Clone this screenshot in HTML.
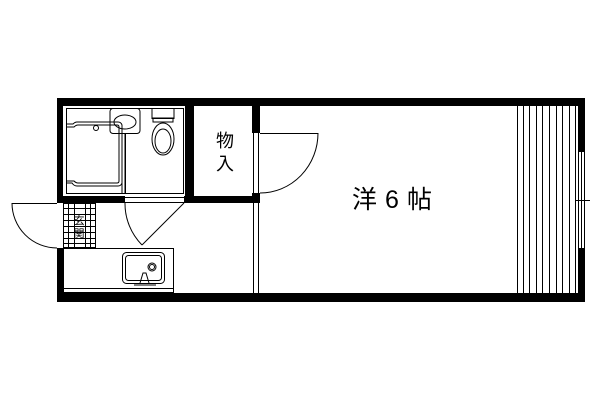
<!DOCTYPE html>
<html><head><meta charset="utf-8"><style>
html,body{margin:0;padding:0;background:#fff;width:600px;height:400px;overflow:hidden}
</style></head><body>
<svg width="600" height="400" viewBox="0 0 600 400" xmlns="http://www.w3.org/2000/svg" font-family="'Liberation Sans','Noto Sans CJK JP',sans-serif">
<g fill="#000">
<rect x="57" y="98" width="528" height="8"/>
<rect x="57" y="293" width="528" height="9"/>
<rect x="57" y="98" width="6" height="105"/>
<rect x="57" y="248" width="6" height="54"/>
<rect x="578" y="98" width="7" height="54"/>
<rect x="578" y="248" width="7" height="54"/>
<rect x="185" y="98" width="9" height="105"/>
<rect x="57" y="196" width="68" height="7"/>
<rect x="184" y="196" width="76" height="7"/>
<rect x="252" y="98" width="8" height="35"/>
<rect x="252" y="193" width="8" height="10"/>
</g>
<g fill="none" stroke="#000" stroke-width="1">
<rect x="66.5" y="108.5" width="117" height="85"/>
<line x1="125.5" y1="134" x2="125.5" y2="193"/>
<path d="M67 124 H73 Q75 122 77 122 H118 Q121 122 122 125 V183 Q121 186 118 186 H77 Q74 186 72 183 H67"/>
<path d="M67 127 H74 Q76 125 78 125 H117 Q119 125 119 127 V181 Q119 183 117 183 H78 Q76 183 74 181 H67"/>
<circle cx="96" cy="128" r="2.5"/>
<rect x="110" y="108.5" width="30" height="25" rx="3"/>
<ellipse cx="125" cy="122" rx="11" ry="7"/>
<line x1="122" y1="133" x2="122" y2="193"/><line x1="125" y1="133" x2="125" y2="193"/>
<rect x="152" y="108.5" width="22" height="10"/>
<path d="M153 118 H173 V122 H153Z"/>
<ellipse cx="163" cy="139" rx="11" ry="16"/>
<ellipse cx="163" cy="141" rx="8" ry="12"/>
<line x1="125" y1="197.5" x2="184" y2="197.5"/>
<line x1="125" y1="202.5" x2="184" y2="202.5"/>
<line x1="184" y1="203" x2="142" y2="245"/>
<path d="M125 203 A59 59 0 0 0 142 245"/>
<line x1="253.5" y1="133" x2="253.5" y2="193"/>
<line x1="258.5" y1="133" x2="258.5" y2="193"/>
<line x1="253.5" y1="203" x2="253.5" y2="293"/>
<line x1="258.5" y1="203" x2="258.5" y2="293"/>
<line x1="260" y1="133.5" x2="318" y2="133.5"/>
<path d="M318 133 A58 60 0 0 1 260 193"/>
<line x1="12" y1="203.5" x2="57" y2="203.5"/>
<path d="M12 203 A45 45 0 0 0 57 248"/>
<line x1="57" y1="248.5" x2="63" y2="248.5"/>
<rect x="63.5" y="203.5" width="32" height="44"/>
<line x1="68.5" y1="203" x2="68.5" y2="248"/><line x1="74.5" y1="203" x2="74.5" y2="248"/>
<line x1="85.5" y1="203" x2="85.5" y2="248"/><line x1="90.5" y1="203" x2="90.5" y2="248"/>
<line x1="63" y1="208.5" x2="96" y2="208.5"/><line x1="63" y1="214.5" x2="96" y2="214.5"/>
<line x1="63" y1="220.5" x2="96" y2="220.5"/><line x1="63" y1="226.5" x2="96" y2="226.5"/>
<line x1="63" y1="232.5" x2="96" y2="232.5"/><line x1="63" y1="238.5" x2="96" y2="238.5"/>
<line x1="63" y1="243.5" x2="96" y2="243.5"/>
<rect x="63.5" y="248.5" width="110" height="44"/>
<line x1="63" y1="288.5" x2="174" y2="288.5"/>
<rect x="122.5" y="252.5" width="42" height="31" rx="4"/>
<rect x="125.5" y="255.5" width="36" height="25" rx="3"/>
<circle cx="152" cy="267" r="4"/><circle cx="152" cy="267" r="2.5"/>
<path d="M140 283 L143 273 H146 L149 283"/>
<path d="M134 285 H156"/>
<line x1="517.5" y1="106" x2="517.5" y2="293"/><line x1="523.5" y1="106" x2="523.5" y2="293"/>
<line x1="529.5" y1="106" x2="529.5" y2="293"/><line x1="536.5" y1="106" x2="536.5" y2="293"/>
<line x1="542.5" y1="106" x2="542.5" y2="293"/><line x1="549.5" y1="106" x2="549.5" y2="293"/>
<line x1="556.5" y1="106" x2="556.5" y2="293"/><line x1="562.5" y1="106" x2="562.5" y2="293"/>
<line x1="569.5" y1="106" x2="569.5" y2="293"/><line x1="575.5" y1="106" x2="575.5" y2="293"/>
<line x1="578.5" y1="152" x2="578.5" y2="248"/>
<line x1="581.5" y1="152" x2="581.5" y2="248"/>
<line x1="584.5" y1="152" x2="584.5" y2="248"/>
<line x1="576" y1="200.5" x2="590" y2="200.5"/>
</g>
<g fill="#000">
<text x="225" y="147" font-size="18" text-anchor="middle">物</text>
<text x="225" y="170" font-size="18" text-anchor="middle">入</text>
<text x="79" y="224" font-size="11" text-anchor="middle">玄</text>
<text x="79" y="237" font-size="11" text-anchor="middle">関</text>
<text x="396" y="208" font-size="25" text-anchor="middle" letter-spacing="8">洋6帖</text>
</g>
</svg>
</body></html>
